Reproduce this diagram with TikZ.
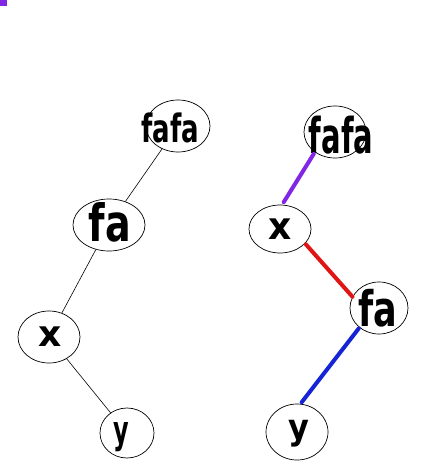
\documentclass[tikz,border=0pt]{standalone}
\usepackage{graphicx}
\usepackage{fontspec}
\setmainfont{DejaVu Sans}
\usetikzlibrary{shapes.geometric}
\definecolor{pur}{HTML}{8226E6}
\definecolor{rd}{HTML}{E01515}
\definecolor{bl}{HTML}{1525D5}
\tikzset{
  bub/.style={ellipse, draw, line width=0.7pt, inner sep=0pt},
  lbl/.style={inner sep=0pt},
  thinedge/.style={draw, line width=0.6pt},
  thickedge/.style={line width=4pt, line cap=round},
}
\newcommand{\hw}[4]{\fontsize{#1}{#1}\selectfont\bfseries\scalebox{#2}[#3]{#4}}
\begin{document}
\begin{tikzpicture}[x=1pt,y=-1pt]
\useasboundingbox (0,0) rectangle (420,473);
\fill[white] (0,0) rectangle (420,473);
\fill[pur] (0,0) rectangle (7,6);
% left tree
\node[bub, minimum width=64, minimum height=52] (Lfafa) at (178,126) {};
\node[bub, minimum width=72, minimum height=52] (Lfa) at (109,225) {};
\node[bub, minimum width=62, minimum height=52] (Lx) at (49,337) {};
\node[bub, minimum width=54, minimum height=50] (Ly) at (127,433) {};
\node[lbl] (tLfafa) at (170,128) {\hw{26}{1}{1.5}{fafa}};
\node[lbl] (tLfa) at (110,222) {\hw{38}{1}{1.35}{fa}};
\node[lbl] (tLx) at (50,337) {\hw{36}{1}{1}{x}};
\node[lbl] (tLy) at (121,437) {\hw{32}{0.75}{1.2}{y}};
\draw[thinedge] (Lfafa) -- (Lfa);
\draw[thinedge] (Lfa) -- (Lx);
\draw[thinedge] (Lx) -- (Ly);
% right tree
\node[bub, minimum width=62, minimum height=52] (Rfafa) at (335,132) {};
\node[bub, minimum width=62, minimum height=48] (Rx) at (280,229) {};
\node[bub, minimum width=58, minimum height=52] (Rfa) at (379,308) {};
\node[bub, minimum width=62, minimum height=56] (Ry) at (297,432) {};
\node[lbl] (tRfafa) at (341,135) {\hw{29}{1}{1.7}{fafa}};
\node[lbl] (tRx) at (280,229) {\hw{36}{1}{1.05}{x}};
\node[lbl] (tRfa) at (378,308) {\hw{35}{1}{1.4}{fa}};
\node[lbl] (tRy) at (299,434) {\hw{32}{1}{1.1}{y}};
\draw[thickedge, pur, shorten <=2pt, shorten >=3pt] (Rfafa.225) -- (Rx.85);
\draw[thickedge, rd, shorten <=1pt] (Rx.330) -- (Rfa.157);
\draw[thickedge, bl, shorten <=1pt, shorten >=2pt] (Rfa.225) -- (Ry.83);
\end{tikzpicture}
\end{document}
